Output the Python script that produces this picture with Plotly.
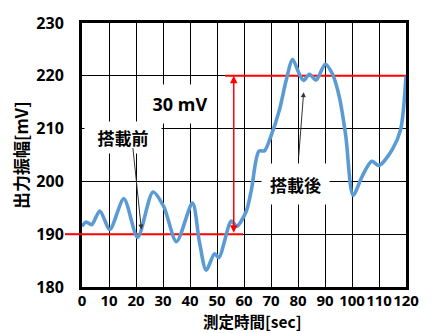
import plotly.graph_objects as go

time_s = [0, 1.5, 3.6, 6.6, 10.3, 15.5, 20.6, 26.3, 30.3, 35, 40.9, 43.5, 46, 49.1, 50.7,
          55.3, 57.3, 60.8, 62.7, 65.5, 67.6, 70, 73.1, 75.6, 78, 80.5, 82.1, 84.2, 86.7,
          90.1, 92.8, 95.3, 97.7, 100.4, 103.9, 107.3, 110, 115, 118, 120]
amp_mv = [191.5, 192.3, 191.8, 194.4, 190.9, 196.7, 189.4, 198.0, 195.2, 188.6, 195.9, 188.5,
          183.2, 186.3, 185.6, 192.5, 191.5, 194.3, 198.3, 205.7, 205.8, 208.6, 213.5, 219.1,
          223.1, 220.3, 219.1, 220.3, 219.2, 222.2, 220.3, 216.0, 208.6, 197.4, 201.1, 203.8,
          203.0, 206.1, 209.8, 220.0]

x_ticks = list(range(0, 121, 10))
y_ticks = list(range(180, 231, 10))
x_range = [0, 120]
y_range = [180, 230]

before_level = 190
after_level = 220
diff_label = "30 mV"

FONT = "Noto Sans, Noto Sans CJK JP, sans-serif"
CJK = "Noto Sans CJK JP, Noto Sans, sans-serif"

fig = go.Figure()
fig.add_trace(go.Scatter(x=time_s, y=amp_mv, mode="lines",
                         line=dict(color="#5B9BD5", width=3.6, shape="spline", smoothing=0.8),
                         showlegend=False))

def xpaper(v):
    return (v - x_range[0]) / (x_range[1] - x_range[0])

def ypaper(v):
    return (v - y_range[0]) / (y_range[1] - y_range[0])

# red reference lines
fig.add_shape(type="line", xref="paper", yref="paper", x0=xpaper(-6.3), x1=0,
              y0=ypaper(before_level), y1=ypaper(before_level),
              line=dict(color="#ff0000", width=2), layer="above")
fig.add_shape(type="line", xref="x", yref="y", x0=0, x1=59.6,
              y0=before_level, y1=before_level, line=dict(color="#ff0000", width=2), layer="between")
fig.add_shape(type="line", xref="x", yref="y", x0=53, x1=120,
              y0=after_level, y1=after_level, line=dict(color="#ff0000", width=2), layer="between")

# red double arrow
fig.add_annotation(x=56.2, y=after_level, ax=56.2, ay=before_level, xref="x", yref="y",
                   axref="x", ayref="y", text="", showarrow=True, arrowhead=2, arrowsize=1,
                   arrowwidth=1.5, arrowcolor="#ff0000", arrowside="end+start",
                   standoff=0, startstandoff=0)

# labels with white boxes
fig.add_annotation(x=36.2, y=214.6, xref="x", yref="y", text=diff_label, showarrow=False,
                   font=dict(family=FONT, size=18, color="black", weight="bold"),
                   bgcolor="white", width=66, height=36)
fig.add_annotation(x=15.2, y=208.4, xref="x", yref="y", text="搭載前", showarrow=False,
                   font=dict(family=CJK, size=17, color="black", weight="bold"),
                   bgcolor="white", width=74, height=29)
fig.add_annotation(x=79.1, y=199.6, xref="x", yref="y", text="搭載後", showarrow=False,
                   font=dict(family=CJK, size=17, color="black", weight="bold"),
                   bgcolor="white", width=65, height=38)

# black pointer arrows
fig.add_annotation(x=22.0, y=190.9, ax=18.8, ay=206.6, xref="x", yref="y", axref="x", ayref="y",
                   text="", showarrow=True, arrowhead=2, arrowsize=1, arrowwidth=1,
                   arrowcolor="#333333", standoff=0)
fig.add_annotation(x=82.1, y=216.9, ax=80.2, ay=204.3, xref="x", yref="y", axref="x", ayref="y",
                   text="", showarrow=True, arrowhead=2, arrowsize=1, arrowwidth=1,
                   arrowcolor="#333333", standoff=0)

# axis titles
fig.add_annotation(x=xpaper(63), y=0, xref="paper", yref="paper", yshift=-46, yanchor="bottom",
                   text="測定時間[sec]", showarrow=False, borderpad=0,
                   font=dict(family=CJK, size=15.5, color="black", weight="bold"))
fig.add_annotation(x=0, y=0.5, xref="paper", yref="paper", xshift=-62, xanchor="center",
                   text="出力振幅[mV]", showarrow=False, textangle=-90,
                   font=dict(family=CJK, size=17, color="black", weight="bold"))

axis_common = dict(showgrid=True, gridcolor="#000000", gridwidth=1, showline=True,
                   linecolor="#000000", linewidth=3, mirror=True, zeroline=False, ticks="")
fig.update_xaxes(range=x_range, tickvals=x_ticks, ticktext=[str(v) for v in x_ticks],
                 tickangle=0, ticklabelstandoff=-2,
                 tickfont=dict(family=FONT, size=15, color="black", weight="bold"), **axis_common)
fig.update_yaxes(range=y_range, tickvals=y_ticks, ticktext=[str(v) for v in y_ticks],
                 ticklabelstandoff=12,
                 tickfont=dict(family=FONT, size=16, color="black", weight="bold"), **axis_common)

fig.update_layout(width=431, height=333, margin=dict(l=82, r=24, t=18, b=46),
                  paper_bgcolor="white", plot_bgcolor="white")

fig.write_html("out.html")
